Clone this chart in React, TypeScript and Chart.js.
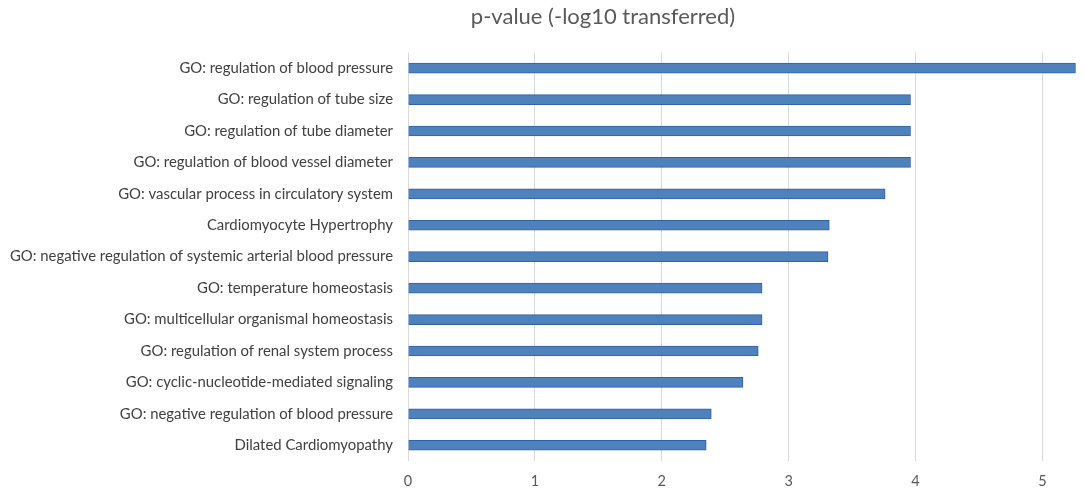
import React, { useEffect, useRef } from "react";
import { Chart, registerables } from "chart.js";

Chart.register(...registerables);

const categories = [
  "GO: regulation of blood pressure",
  "GO: regulation of tube size",
  "GO: regulation of tube diameter",
  "GO: regulation of blood vessel diameter",
  "GO: vascular process in circulatory system",
  "Cardiomyocyte Hypertrophy",
  "GO: negative regulation of systemic arterial blood pressure",
  "GO: temperature homeostasis",
  "GO: multicellular organismal homeostasis",
  "GO: regulation of renal system process",
  "GO: cyclic-nucleotide-mediated signaling",
  "GO: negative regulation of blood pressure",
  "Dilated Cardiomyopathy",
];

const pValues = [5.26, 3.96, 3.96, 3.96, 3.76, 3.32, 3.31, 2.79, 2.79, 2.76, 2.64, 2.39, 2.35];

const xTicks = [0, 1, 2, 3, 4, 5];

const title = "p-value (-log10 transferred)";

const titleShift = {
  id: "titleShift",
  afterLayout(chart: any) {
    const t = chart.titleBlock;
    if (t) {
      t.left = 128;
      t.width = t.right - t.left;
    }
  },
};

export default function App() {
  const ref = useRef<HTMLCanvasElement>(null);
  useEffect(() => {
    document.body.style.margin = "0";
    const ctx = ref.current!;
    const chart = new Chart(ctx, {
      type: "bar",
      data: {
        labels: categories,
        datasets: [
          {
            data: pValues,
            backgroundColor: "#4F81BD",
            borderColor: "#2F62A8",
            borderWidth: 1,
            barThickness: 10,
          },
        ],
      },
      plugins: [titleShift],
      options: {
        indexAxis: "y",
        animation: false,
        responsive: false,
        maintainAspectRatio: false,
        layout: { padding: { left: 0, right: 6, top: 4, bottom: 0 } },
        plugins: {
          legend: { display: false },
          tooltip: { enabled: false },
          title: {
            display: true,
            text: title,
            color: "#595959",
            font: { family: "Lato", size: 22, weight: "normal" },
            padding: { top: 0, bottom: 22 },
          },
        },
        scales: {
          x: {
            min: 0,
            max: 5.28,
            afterBuildTicks: (scale: any) => {
              scale.ticks = xTicks.map((v) => ({ value: v }));
            },
            afterFit: (scale: any) => {
              scale.height = 34;
            },
            grid: { color: "#D9D9D9", lineWidth: 1, drawTicks: false },
            border: { display: false },
            ticks: {
              color: "#595959",
              font: { family: "Lato", size: 14.5 },
              padding: 12,
            },
          },
          y: {
            afterFit: (scale: any) => {
              scale.width = 408;
            },
            grid: { display: false, drawTicks: false },
            border: { display: false },
            ticks: {
              color: "#404040",
              font: { family: "Lato", size: 14.9 },
              padding: 15,
              autoSkip: false,
            },
          },
        },
      },
    });
    return () => chart.destroy();
  }, []);
  return (
    <div style={{ width: 1084, height: 495 }}>
      <canvas ref={ref} width={1084} height={495} style={{ display: "block" }} />
    </div>
  );
}
